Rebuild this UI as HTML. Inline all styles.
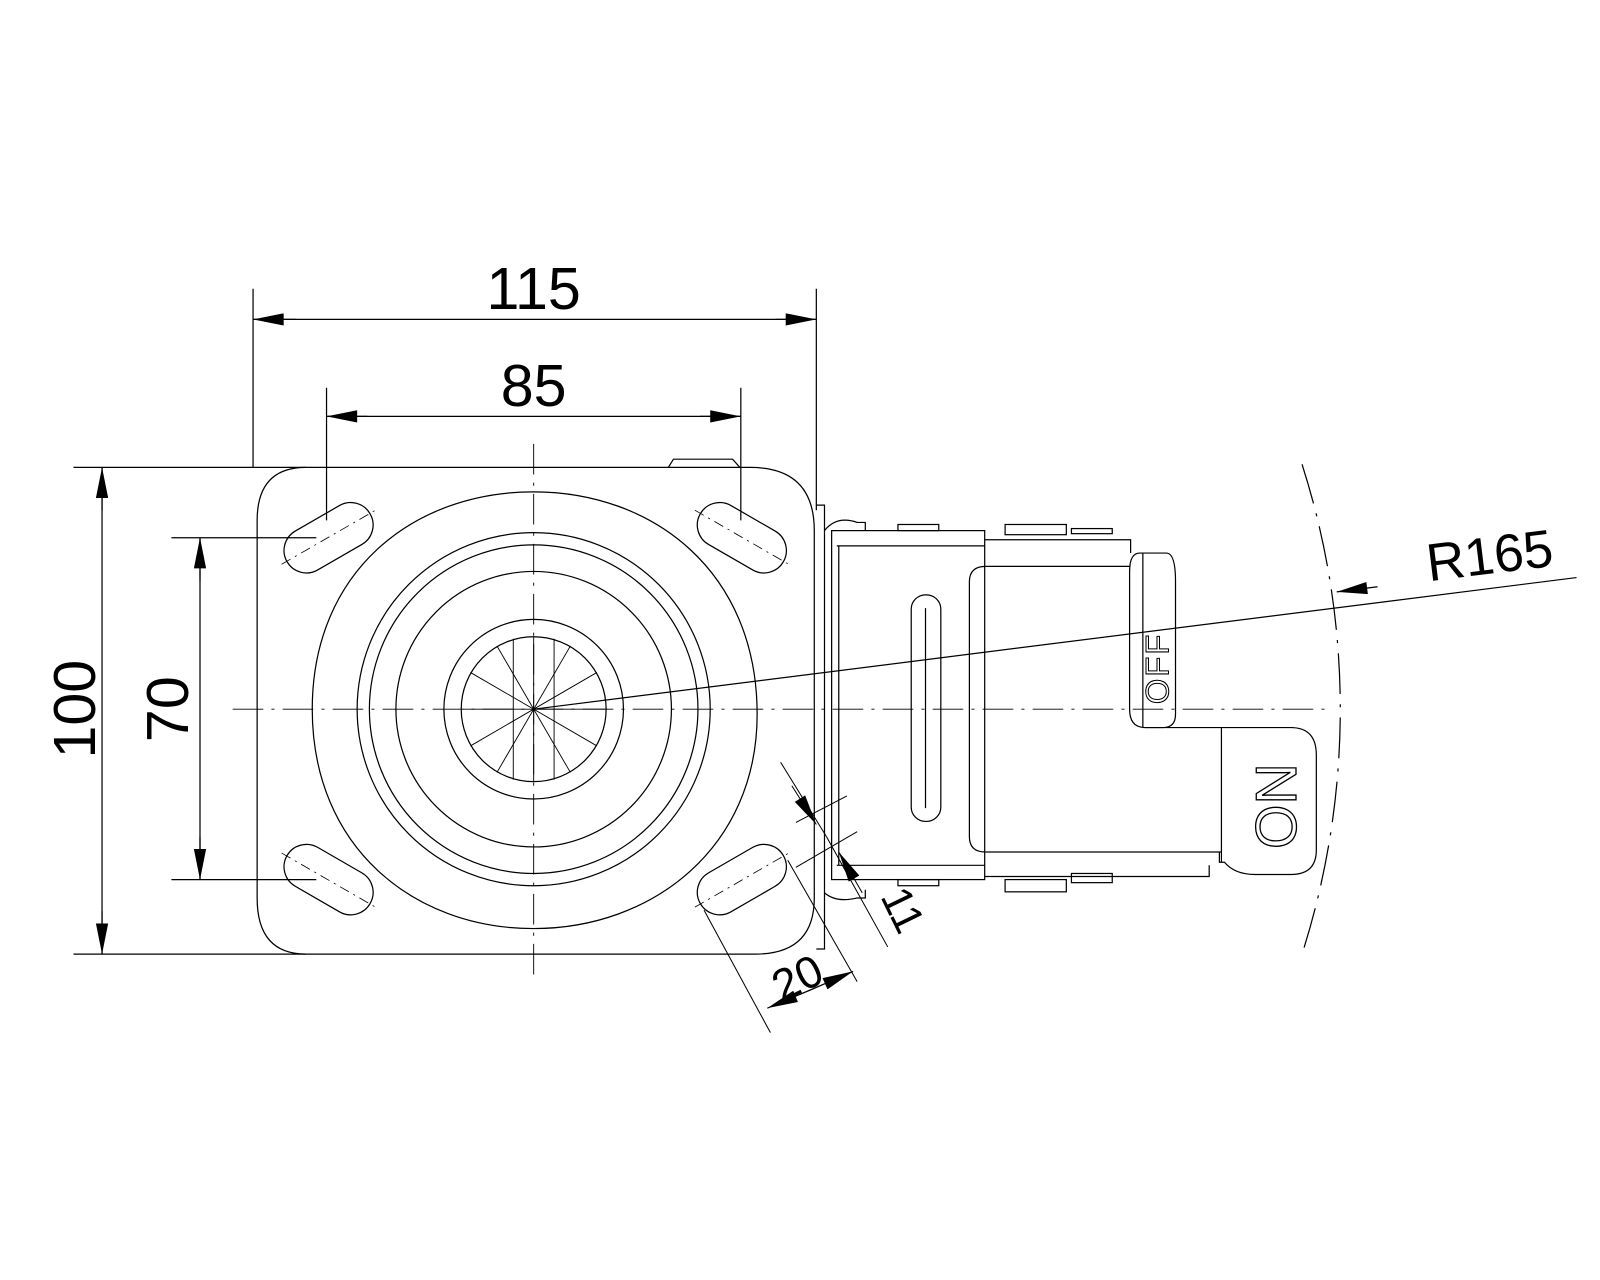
<!DOCTYPE html>
<html><head><meta charset="utf-8"><style>html,body{margin:0;padding:0;background:#fff}svg{display:block}</style></head><body>
<svg width="1600" height="1280" viewBox="0 0 1568 1254.4" xmlns="http://www.w3.org/2000/svg">
<defs>
<marker id="a" viewBox="0 0 20 8" refX="20" refY="4" markerWidth="40" markerHeight="12" markerUnits="userSpaceOnUse" orient="auto"><path d="M0,0 L20,4 L0,8 Z" fill="#000"/></marker>
</defs>
<g fill="none" stroke="#000" stroke-width="1.2" font-family="Liberation Sans, sans-serif">
<line x1="248" y1="283" x2="248" y2="458"/><line x1="800" y1="283" x2="800" y2="500"/>
<line x1="290" y1="313" x2="248" y2="313" marker-end="url(#a)"/><line x1="760" y1="313" x2="800" y2="313" marker-end="url(#a)"/>
<line x1="248" y1="313" x2="800" y2="313"/>
<line x1="320" y1="380" x2="320" y2="510"/><line x1="726" y1="380" x2="726" y2="510"/>
<line x1="320" y1="408" x2="726" y2="408"/>
<line x1="360" y1="408" x2="320" y2="408" marker-end="url(#a)"/><line x1="686" y1="408" x2="726" y2="408" marker-end="url(#a)"/>
<line x1="72" y1="458" x2="300" y2="458"/><line x1="72" y1="935" x2="300" y2="935"/>
<line x1="100" y1="458" x2="100" y2="935"/>
<line x1="100" y1="500" x2="100" y2="458" marker-end="url(#a)"/><line x1="100" y1="893" x2="100" y2="935" marker-end="url(#a)"/>
<line x1="168" y1="527" x2="310" y2="527"/><line x1="168" y1="862" x2="310" y2="862"/>
<line x1="196" y1="527" x2="196" y2="862"/>
<line x1="196" y1="569" x2="196" y2="527" marker-end="url(#a)"/><line x1="196" y1="820" x2="196" y2="862" marker-end="url(#a)"/>
<path d="M300,458 H735 Q798,458 798,520 V880 Q798,935 740,935 H300 Q252,935 252,880 V510 Q252,458 300,458 Z"/>
<path d="M655,458 L660,450 H718 L725,458"/>
<path d="M523,482 C640,482 742,560 742,700 C742,830 640,910 523,910 C405,910 306,830 306,695 C306,560 405,482 523,482 Z"/>
<circle cx="523" cy="695" r="173"/><circle cx="523" cy="695" r="161"/>
<circle cx="523" cy="695" r="135"/><circle cx="523" cy="695" r="88"/><circle cx="523" cy="695" r="71"/>
<g stroke-width="0.9">
<line x1="523" y1="624" x2="523" y2="766"/>
<line x1="453" y1="695" x2="594" y2="695"/>
<line x1="461" y1="659" x2="585" y2="731"/><line x1="461" y1="731" x2="585" y2="659"/>
<line x1="487" y1="633" x2="559" y2="757"/><line x1="487" y1="757" x2="559" y2="633"/>
<line x1="503" y1="626" x2="503" y2="764"/><line x1="543" y1="626" x2="543" y2="764"/>
</g>
<g stroke-width="0.9" stroke-dasharray="30,8,3,8">
<line x1="523" y1="435" x2="523" y2="960"/>
<line x1="228" y1="695" x2="1300" y2="695"/>
</g>
<g>
<rect x="-47" y="-22" width="94" height="44" rx="22" transform="translate(322,527) rotate(-30)"/>
<rect x="-47" y="-22" width="94" height="44" rx="22" transform="translate(727,527) rotate(30)"/>
<rect x="-47" y="-22" width="94" height="44" rx="22" transform="translate(322,862) rotate(30)"/>
<rect x="-47" y="-22" width="94" height="44" rx="22" transform="translate(727,862) rotate(-30)"/>
</g>
<g stroke-width="0.8" stroke-dasharray="10,5,2,5">
<line x1="276" y1="553" x2="368" y2="500"/><line x1="681" y1="500" x2="773" y2="553"/>
<line x1="276" y1="836" x2="368" y2="889"/><line x1="681" y1="889" x2="773" y2="836"/>
</g>
<path d="M800,495 H808 V930 H800"/>
<path d="M808,520 Q820,505 840,512 H848 V520"/>
<path d="M808,875 Q820,885 840,880 H848 V872"/>
<rect x="815" y="520" width="150" height="342"/>
<line x1="820" y1="535" x2="965" y2="535"/><line x1="820" y1="848" x2="965" y2="848"/>
<line x1="822" y1="535" x2="822" y2="848"/>
<rect x="880" y="514" width="40" height="6"/><rect x="985" y="514" width="60" height="10"/><rect x="1050" y="518" width="40" height="5"/>
<rect x="880" y="862" width="40" height="6"/><rect x="985" y="862" width="60" height="12"/><rect x="1050" y="856" width="40" height="9"/>
<rect x="893" y="583" width="29" height="222" rx="14"/>
<line x1="907" y1="596" x2="907" y2="792"/>
<path d="M965,529 H1108 V542 M965,859 H1185 V848"/>
<path d="M966,555 H1108 M966,835 H1197"/>
<path d="M966,555 Q950,555 950,570 V820 Q950,835 966,835"/>
<path d="M1117,542 H1143 Q1152,542 1152,570 V700 Q1152,713 1140,713 H1122 Q1107,713 1107,695 V560 Q1107,542 1117,542 Z"/>
<line x1="1120" y1="542" x2="1120" y2="713"/>
<path d="M1122,713 H1265 Q1290,713 1290,740 V833 Q1290,857 1265,857 H1230 Q1210,857 1200,845 H1195 V835"/>
<line x1="1197" y1="713" x2="1197" y2="845"/>
<text x="0" y="0" transform="translate(1145,690) rotate(-90)" font-size="32" stroke-width="1" letter-spacing="2">OFF</text>
<text x="0" y="0" transform="translate(1270,832) rotate(-90)" font-size="56" stroke-width="1.3">ON</text>
<path d="M1276,455 A787,787 0 0 1 1276,935" stroke-dasharray="40,10,3,10"/>
<line x1="523" y1="695" x2="1545" y2="566"/>
<line x1="1350" y1="575" x2="1310" y2="580" marker-end="url(#a)"/>
<g stroke-width="1">
<line x1="690" y1="892" x2="755" y2="1012"/><line x1="772" y1="843" x2="840" y2="962"/>
<line x1="752" y1="988" x2="836" y2="952"/>
<line x1="795" y1="970" x2="752" y2="988" marker-end="url(#a)"/><line x1="795" y1="970" x2="836" y2="952" marker-end="url(#a)"/>
<line x1="765" y1="747" x2="810" y2="820"/><line x1="810" y1="820" x2="870" y2="928"/>
<line x1="776" y1="770" x2="800" y2="808" marker-end="url(#a)"/>
<line x1="845" y1="875" x2="822" y2="835" marker-end="url(#a)"/>
<line x1="780" y1="806" x2="830" y2="780"/><line x1="780" y1="850" x2="840" y2="815"/>
</g>
</g>
<g font-family="Liberation Sans, sans-serif" fill="#000">
<text x="523" y="303" font-size="58" text-anchor="middle">115</text>
<text x="523" y="398" font-size="58" text-anchor="middle">85</text>
<text transform="translate(93,695) rotate(-90)" font-size="58" text-anchor="middle">100</text>
<text transform="translate(184,695) rotate(-90)" font-size="58" text-anchor="middle">70</text>
<text transform="translate(1462,562) rotate(-7)" font-size="52" text-anchor="middle">R165</text>
<text transform="translate(788,972) rotate(-26)" font-size="44" text-anchor="middle">20</text>
<text transform="translate(872,898) rotate(64)" font-size="42" text-anchor="middle">11</text>
</g>
</svg>
</body></html>
